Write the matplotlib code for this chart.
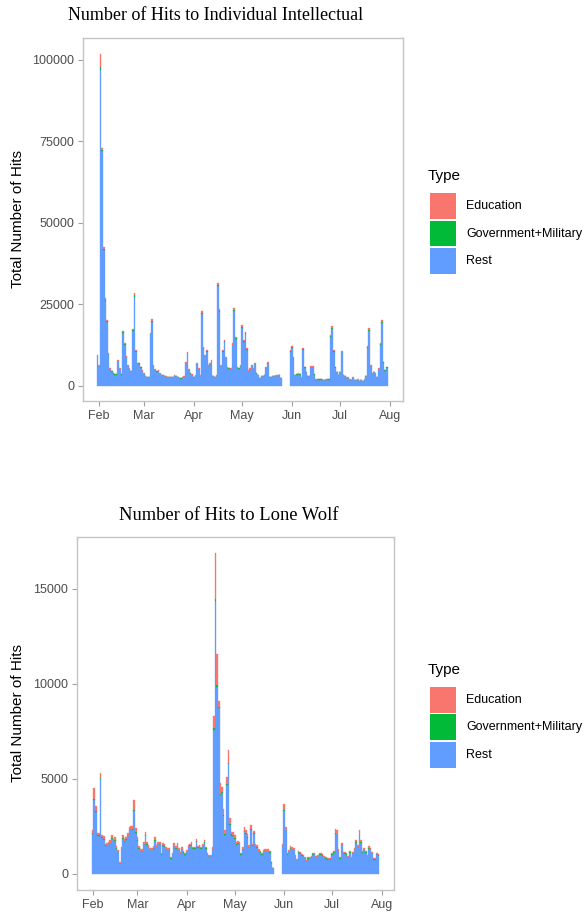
import numpy as np
import pandas as pd
import matplotlib
matplotlib.use("Agg")
import matplotlib.pyplot as plt
import matplotlib.dates as mdates
from matplotlib.patches import Rectangle

# daily hits to "Individual Intellectual", starting 2018-01-31 (None = no data)
ii_start = "2018-01-31"
ii_total = [9500, 6400, 101800, 72900, 42500, 26900, 20200, 10200, 5500, 4700,
            4000, 3700, 3700, 8000, 5400, 3700, 16900, 13100, 9200, 6400,
            5400, 4700, 17500, 28400, 11000, 7000, 7200, 5900, 4900, 3900,
            3100, 2800, 2800, 16400, 20400, 6500, 5100, 4700, 4900, 3900,
            3400, 3400, 3200, 3000, 2900, 2900, 2900, 2800, 3300, 3200,
            2800, 2600, 2400, 2700, 3000, 7500, 10500, 5100, 4000, 3600,
            2800, 3300, 7000, 5400, 3300, 23000, 12100, 9500, 11000, 6400,
            7000, 8000, 3100, 2800, 3300, 31700, 23500, 6400, 11000, 14100,
            9000, 5800, 5600, 5400, 13100, 23800, 15100, 5800, 5600, 6400,
            18700, 14100, 16700, 11600, 4900, 5400, 6400, 5400, 7000, 4000,
            3400, 2500, 3100, 3100, 3400, 5800, 7400, 2800, 2800, 3100,
            3100, 3300, 3300, 3400, 2500, None, None, None, None, None,
            11000, 12300, 9000, 3400, 3700, 3900, 3700, 2700, 11600, 5900,
            4400, 3100, 3100, 6100, 6100, 3700, 2000, 2100, 2100, 2100,
            2000, 1800, 2000, 2100, 2100, 15600, 18400, 11000, 5900, 4400,
            3400, 4400, 10800, 3400, 3100, 2700, 2700, 2000, 1800, 2700,
            1800, 1800, 2000, 1500, 1800, 1500, 2000, 3100, 12300, 17700,
            6400, 3900, 4400, 3900, 2900, 5400, 13300, 20200, 7500, 5000,
            5900]
ii_edu = [300, 200, 4100, 600, 500, 500, 400, 300, 200, 200,
          150, 150, 150, 300, 200, 150, 400, 300, 300, 200,
          200, 150, 400, 500, 300, 250, 250, 200, 200, 150,
          100, 100, 100, 400, 500, 250, 200, 200, 200, 150,
          100, 100, 100, 100, 100, 100, 100, 100, 100, 100,
          100, 100, 100, 100, 100, 300, 350, 200, 150, 100,
          100, 100, 250, 200, 100, 500, 350, 300, 300, 200,
          250, 250, 100, 100, 100, 600, 500, 200, 300, 400,
          300, 200, 200, 200, 400, 500, 400, 200, 200, 200,
          500, 400, 400, 300, 150, 200, 200, 200, 250, 150,
          100, 100, 100, 100, 100, 200, 250, 100, 100, 100,
          100, 100, 100, 100, 100, None, None, None, None, None,
          400, 400, 300, 100, 150, 150, 150, 100, 400, 200,
          150, 100, 100, 200, 200, 150, 80, 80, 80, 80,
          80, 80, 80, 80, 80, 400, 500, 300, 200, 150,
          100, 150, 300, 100, 100, 100, 100, 80, 80, 100,
          80, 80, 80, 60, 80, 60, 80, 100, 400, 500,
          200, 150, 150, 150, 100, 200, 400, 500, 250, 200,
          200]
ii_gov = [100, 80, 700, 200, 300, 300, 300, 150, 80, 60,
          50, 50, 50, 100, 80, 50, 200, 150, 100, 80,
          60, 50, 200, 500, 150, 100, 100, 80, 60, 50,
          40, 40, 40, 200, 400, 100, 80, 60, 60, 50,
          40, 40, 40, 40, 40, 40, 40, 40, 40, 40,
          40, 40, 40, 40, 40, 100, 150, 60, 50, 40,
          40, 40, 100, 80, 40, 400, 150, 100, 150, 80,
          100, 100, 40, 40, 40, 500, 300, 100, 150, 200,
          100, 80, 80, 80, 200, 400, 200, 80, 80, 100,
          300, 200, 200, 150, 60, 80, 80, 80, 100, 50,
          40, 30, 40, 40, 40, 80, 100, 40, 40, 40,
          40, 40, 40, 40, 30, None, None, None, None, None,
          200, 200, 150, 40, 50, 50, 50, 40, 200, 80,
          60, 40, 40, 80, 80, 50, 30, 30, 30, 30,
          30, 30, 30, 30, 30, 300, 400, 150, 80, 60,
          40, 60, 150, 40, 40, 40, 40, 30, 30, 40,
          30, 30, 30, 20, 30, 20, 30, 40, 200, 300,
          80, 50, 60, 50, 40, 80, 200, 300, 100, 80,
          80]

# daily hits to "Lone Wolf", starting 2018-02-01
lw_start = "2018-02-01"
lw_total = [2300, 4500, 3600, 2150, 2150, 5330, 2050, 2000, 1600, 1650,
            1700, 1800, 2050, 1850, 1950, 1470, 1260, 650, 1440, 2050,
            1820, 1920, 2140, 2450, 2520, 2500, 3870, 2400, 1950, 1470,
            1300, 1300, 1700, 2230, 1700, 1530, 1350, 1350, 1470, 1950,
            1530, 1700, 1700, 1090, 1610, 1580, 1400, 1350, 1350, 880,
            1120, 1610, 1470, 1650, 1350, 1170, 1400, 1200, 1090, 1260,
            1530, 1600, 1700, 1440, 1440, 1840, 1490, 1540, 1440, 1580,
            1800, 1440, 1120, 1000, 1000, 1440, 8310, 16870, 11570, 9120,
            4800, 4590, 3400, 2300, 5120, 6520, 2930, 2230, 2200, 2050,
            1700, 1750, 1700, 1090, 1440, 2460, 2300, 2100, 1540, 2580,
            1600, 2280, 1580, 1500, 1300, 1200, 1090, 1250, 1300, 1300,
            1300, 1200, 650, 330, None, None, None, None, None, 1580,
            3680, 2490, 1090, 1260, 1470, 1440, 1350, 1000, 800, 1230,
            1180, 1050, 1000, 910, 740, 880, 900, 950, 1090, 1120,
            950, 1000, 1090, 1100, 1050, 950, 880, 820, 850, 820,
            1090, 1230, 2350, 2320, 1300, 880, 1650, 1180, 1150, 1090,
            950, 1230, 910, 1180, 1350, 1790, 1530, 2320, 1790, 1230,
            1350, 1200, 1000, 1470, 1350, 1180, 820, 820, 1120, 1050]
lw_edu = [150, 550, 300, 120, 120, 300, 120, 150, 100, 100,
          100, 150, 150, 100, 150, 100, 80, 50, 100, 150,
          100, 100, 120, 120, 130, 150, 490, 200, 150, 100,
          80, 80, 100, 200, 120, 100, 80, 80, 100, 150,
          100, 100, 100, 60, 100, 100, 80, 80, 80, 50,
          60, 120, 100, 120, 80, 60, 80, 60, 60, 80,
          100, 100, 100, 80, 80, 120, 80, 100, 80, 100,
          120, 80, 60, 50, 50, 100, 650, 2420, 1630, 320,
          600, 300, 300, 200, 400, 700, 300, 150, 150, 150,
          120, 120, 100, 60, 100, 200, 150, 150, 100, 200,
          100, 150, 100, 100, 80, 60, 60, 80, 80, 80,
          80, 60, 40, 20, None, None, None, None, None, 100,
          300, 150, 60, 80, 100, 100, 80, 60, 50, 80,
          80, 60, 60, 50, 40, 50, 50, 60, 60, 60,
          60, 60, 60, 60, 60, 60, 50, 50, 50, 50,
          60, 80, 200, 200, 80, 50, 120, 60, 60, 60,
          50, 80, 50, 60, 80, 120, 100, 200, 120, 80,
          80, 60, 60, 100, 80, 60, 50, 50, 60, 60]
lw_gov = [40, 60, 50, 40, 40, 60, 30, 40, 30, 30,
          30, 30, 40, 30, 60, 30, 20, 20, 30, 40,
          30, 40, 40, 40, 40, 40, 60, 50, 40, 30,
          30, 30, 30, 40, 30, 30, 30, 30, 30, 40,
          30, 30, 30, 20, 30, 40, 30, 30, 30, 20,
          20, 30, 30, 30, 30, 20, 30, 20, 20, 30,
          30, 30, 30, 30, 30, 40, 30, 30, 40, 30,
          30, 30, 20, 20, 20, 30, 80, 100, 80, 80,
          60, 50, 50, 40, 60, 60, 60, 60, 40, 40,
          30, 30, 30, 20, 30, 40, 40, 40, 30, 50,
          30, 40, 30, 30, 30, 20, 20, 30, 30, 30,
          30, 20, 10, 10, None, None, None, None, None, 30,
          60, 40, 20, 30, 30, 30, 30, 20, 20, 30,
          30, 20, 20, 20, 20, 20, 20, 20, 20, 20,
          20, 20, 20, 20, 20, 20, 20, 20, 20, 20,
          20, 30, 40, 40, 30, 20, 30, 20, 20, 20,
          20, 30, 20, 20, 30, 40, 30, 40, 30, 30,
          30, 20, 20, 30, 30, 20, 20, 20, 20, 20]

types = ["Education", "Government+Military", "Rest"]
colors = ["#F8766D", "#00BA38", "#619CFF"]

W, H = 588, 916


def stacked(ax, start, total, edu, gov):
    days = pd.date_range(start, periods=len(total), freq="D")
    df = pd.DataFrame({"day": days, "total": total, "edu": edu, "gov": gov}).dropna()
    rest = df["total"] - df["edu"] - df["gov"]
    kw = dict(width=1.0, linewidth=0.25)
    ax.bar(df["day"], rest, color=colors[2], edgecolor=colors[2], **kw)
    ax.bar(df["day"], df["gov"], bottom=rest, color=colors[1], edgecolor=colors[1], **kw)
    ax.bar(df["day"], df["edu"], bottom=rest + df["gov"], color=colors[0],
           edgecolor=colors[0], **kw)


def style(ax, x0, x1, ylim, yticks, label_x):
    feb = pd.Timestamp("2018-02-01")
    ax.set_xlim(feb + pd.Timedelta(days=x0), feb + pd.Timedelta(days=x1))
    ax.set_ylim(ylim)
    ax.set_yticks(yticks)
    ax.set_yticklabels([str(v) for v in yticks])
    ax.xaxis.set_major_locator(mdates.MonthLocator())
    ax.xaxis.set_major_formatter(mdates.DateFormatter("%b"))
    for s in ax.spines.values():
        s.set_color("#C4C4C4")
        s.set_linewidth(1.0)
    ax.tick_params(labelcolor="#4D4D4D", labelsize=9, length=3.6, width=0.8,
                   color="#A0A0A0", pad=2.8)
    ax.set_ylabel("Total Number of Hits", fontsize=11, color="black")
    ax.yaxis.set_label_coords(label_x, 0.5)


def legend(fig, title_y, key_ys):
    # legend drawn by hand, positions in pixels from the top left
    fig.text(428 / W, 1 - title_y / H, "Type", fontsize=11, ha="left", va="center")
    for name, c, yc in zip(types, colors, key_ys):
        fig.add_artist(Rectangle((430 / W, 1 - (yc + 12.8) / H), 25.5 / W, 25.6 / H,
                                 transform=fig.transFigure, facecolor=c,
                                 edgecolor="none"))
        fig.text(466 / W, 1 - yc / H, name, fontsize=9, ha="left", va="center")


plt.rcParams["font.family"] = ["Liberation Sans", "DejaVu Sans"]
fig = plt.figure(figsize=(W / 100, H / 100), dpi=100)

ax1 = fig.add_axes([83.3 / W, 1 - 400.7 / H, 320 / W, 362.4 / H])
stacked(ax1, ii_start, ii_total, ii_edu, ii_gov)
style(ax1, -9.76, 189.2, (-4510, 106640), [0, 25000, 50000, 75000, 100000], -0.182)
fig.text(216 / W, 1 - 15 / H, "Number of Hits to Individual Intellectual",
         ha="center", va="center", fontsize=13, family="Liberation Serif")
legend(fig, 176, [206, 233.5, 261])

ax2 = fig.add_axes([77.3 / W, 1 - 890 / H, 317 / W, 353.3 / H])
stacked(ax2, lw_start, lw_total, lw_edu, lw_gov)
style(ax2, -9.64, 188.9, (-842, 17740), [0, 5000, 10000, 15000], -0.165)
fig.text(229 / W, 1 - 516 / H, "Number of Hits to Lone Wolf",
         ha="center", va="center", fontsize=13.3, family="Liberation Serif")
legend(fig, 670, [700, 727, 755])

fig.savefig("out.png", dpi=100, facecolor="white")
